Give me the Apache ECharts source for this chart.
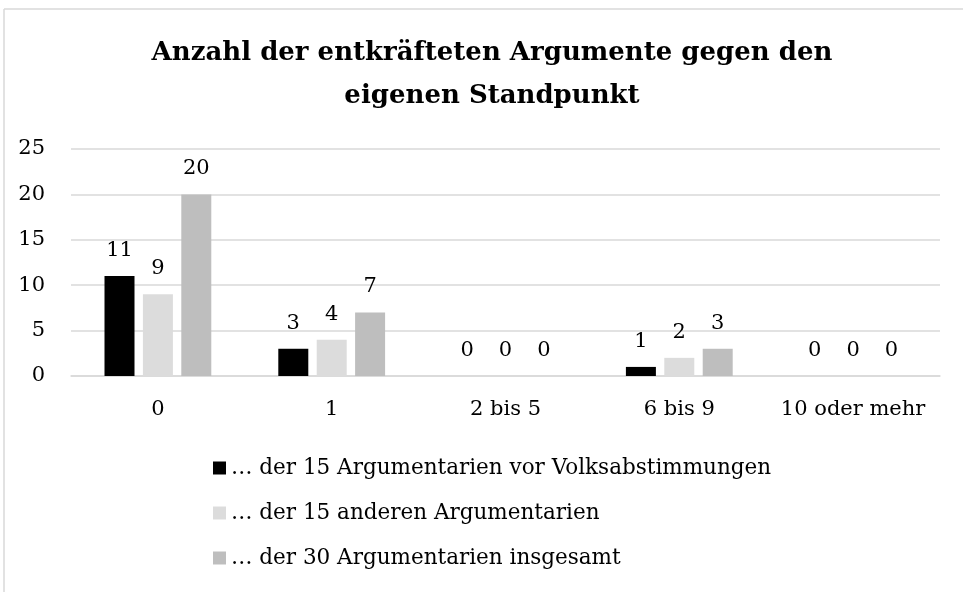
<!DOCTYPE html>
<html>
<head>
<meta charset="utf-8">
<script src="https://cdn.jsdelivr.net/npm/echarts@6/dist/echarts.min.js"></script>
<style>html,body{margin:0;padding:0;background:#fff}#c{width:963px;height:592px}</style>
</head>
<body>
<div id="c"></div>
<script>
const categories = ['0', '1', '2 bis 5', '6 bis 9', '10 oder mehr'];
const seriesNames = ['… der 15 Argumentarien vor Volksabstimmungen', '… der 15 anderen Argumentarien', '… der 30 Argumentarien insgesamt'];
const vorVolksabstimmungen = [11, 3, 0, 1, 0];
const andere = [9, 4, 0, 2, 0];
const insgesamt = [20, 7, 0, 3, 0];
const yTicks = {min: 0, max: 25, interval: 5};
const titleText = 'Anzahl der entkräfteten Argumente gegen den\neigenen Standpunkt';

const FONT = 'DejaVu Serif';
const colors = ['#000000', '#dcdcdc', '#bebebe'];
const values = [vorVolksabstimmungen, andere, insgesamt];

const chart = echarts.init(document.getElementById('c'), null, {renderer: 'canvas'});
chart.setOption({
  animation: false,
  backgroundColor: '#ffffff',
  title: {
    text: titleText,
    left: 487, top: 27, textAlign: 'center',
    textStyle: {fontFamily: FONT, fontWeight: 'bold', fontSize: 26, lineHeight: 43, color: '#000'}
  },
  graphic: [
    {type: 'line', shape: {x1: 4, y1: 9, x2: 963, y2: 9}, style: {stroke: '#d9d9d9', lineWidth: 1.5}},
    {type: 'line', shape: {x1: 4, y1: 9, x2: 4, y2: 592}, style: {stroke: '#d9d9d9', lineWidth: 1.5}}
  ],
  legend: {
    orient: 'vertical', left: 213, top: 457, itemGap: 23, padding: 0,
    icon: 'rect', itemWidth: 13, itemHeight: 13,
    textStyle: {fontFamily: FONT, fontSize: 21.5, lineHeight: 22, color: '#000'},
    data: seriesNames
  },
  grid: {left: 71, right: 23, top: 149, bottom: 216, containLabel: false},
  xAxis: {
    type: 'category', data: categories,
    axisLine: {lineStyle: {color: '#d9d9d9', width: 1.5}},
    axisTick: {show: false},
    axisLabel: {fontFamily: FONT, fontSize: 21, color: '#000', margin: 23, interval: 0}
  },
  yAxis: {
    type: 'value', min: yTicks.min, max: yTicks.max, interval: yTicks.interval,
    axisLine: {show: false}, axisTick: {show: false},
    splitLine: {lineStyle: {color: '#d9d9d9', width: 1.5}},
    axisLabel: {fontFamily: FONT, fontSize: 21, color: '#000', margin: 26}
  },
  series: seriesNames.map((n, i) => ({
    name: n, type: 'bar', data: values[i],
    barWidth: 30, barGap: '28%', barCategoryGap: '38%',
    itemStyle: {color: colors[i]},
    label: {show: true, position: 'top', distance: 15, fontFamily: FONT, fontSize: 21, color: '#000'}
  }))
});
</script>
</body>
</html>
